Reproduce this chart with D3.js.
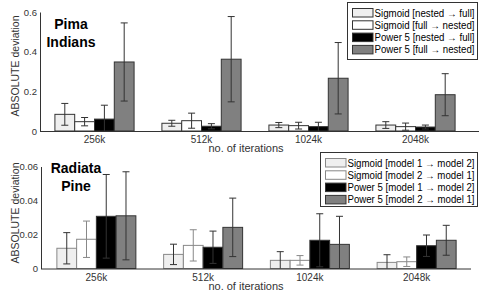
<!DOCTYPE html>
<html>
<head>
<meta charset="utf-8">
<script src="https://cdn.jsdelivr.net/npm/d3@7"></script>
<style>
  body { margin: 0; background: #fff; }
  svg { display: block; font-family: "Liberation Sans", Arial, Helvetica, sans-serif; }
</style>
</head>
<body>
<div id="canvas"></div>
<script>
// categories
const iterations = ["256k", "512k", "1024k", "2048k"];

// Pima Indians
const pimaLabels = ["Sigmoid [nested \u2192 full]", "Sigmoid [full \u2192 nested]",
                    "Power 5 [nested \u2192 full]", "Power 5 [full \u2192 nested]"];
const pimaSigNF   = [0.084, 0.039, 0.030, 0.030];
const pimaSigFN   = [0.047, 0.052, 0.027, 0.022];
const pimaPowNF   = [0.060, 0.024, 0.022, 0.020];
const pimaPowFN   = [0.348, 0.362, 0.266, 0.183];
const pimaSigNFErr = [0.055, 0.015, 0.013, 0.017];
const pimaSigFNErr = [0.021, 0.038, 0.017, 0.018];
const pimaPowNFErr = [0.070, 0.013, 0.022, 0.010];
const pimaPowFNErr = [0.197, 0.215, 0.180, 0.106];
const pimaTicks = [0, 0.2, 0.4, 0.6];

// Radiata Pine
const pineLabels = ["Sigmoid [model 1 \u2192 model 2]", "Sigmoid [model 2 \u2192 model 1]",
                    "Power 5 [model 1 \u2192 model 2]", "Power 5 [model 2 \u2192 model 1]"];
const pineSig12 = [0.0119, 0.0083, 0.0048, 0.0036];
const pineSig21 = [0.0172, 0.0136, 0.0048, 0.0040];
const pinePow12 = [0.0307, 0.0125, 0.0166, 0.0134];
const pinePow21 = [0.0310, 0.0242, 0.0142, 0.0166];
const pineSig12Err = [0.0092, 0.0060, 0.0051, 0.0045];
const pineSig21Err = [0.0107, 0.0092, 0.0028, 0.0028];
const pinePow12Err = [0.0246, 0.0095, 0.0156, 0.0063];
const pinePow21Err = [0.0259, 0.0172, 0.0165, 0.0088];
const pineTicks = [0, 0.02, 0.04, 0.06];

const fills = ["#efefef", "#ffffff", "#000000", "#808080"];

const svg = d3.select("#canvas").append("svg")
    .attr("width", 482)
    .attr("height", 301);

function drawPanel(opt) {
    const g = svg.append("g");
    const y = d3.scaleLinear().domain([0, opt.ymax]).range([opt.y0, opt.y1]);
    const x = d3.scaleBand().domain(iterations).range(opt.xr).padding(0);
    const xi = d3.scaleBand().domain(d3.range(4)).range([x.bandwidth() * 0.13, x.bandwidth() * 0.87]);

    const rows = [];
    opt.series.forEach((s, j) => {
        s.forEach((v, i) => rows.push({ cat: iterations[i], j: j, v: v, e: opt.errs[j][i] }));
    });

    // bars
    g.selectAll("rect.bar").data(rows).enter().append("rect")
        .attr("class", "bar")
        .attr("x", d => x(d.cat) + xi(d.j))
        .attr("y", d => y(d.v))
        .attr("width", xi.bandwidth())
        .attr("height", d => y(0) - y(d.v))
        .style("fill", d => fills[d.j])
        .style("stroke", d => opt.edges[d.j])
        .style("stroke-width", 1);

    // error bars
    const cap = 3.5;
    const eb = g.selectAll("g.err").data(rows).enter().append("g")
        .attr("class", "err")
        .style("stroke", d => opt.errColors[d.j])
        .style("stroke-width", 1);
    const cx = d => x(d.cat) + xi(d.j) + xi.bandwidth() / 2;
    const lo = d => y(Math.max(0, d.v - d.e));
    eb.append("line").attr("x1", cx).attr("x2", cx)
        .attr("y1", d => y(d.v + d.e)).attr("y2", lo);
    eb.append("line").attr("x1", d => cx(d) - cap).attr("x2", d => cx(d) + cap)
        .attr("y1", d => y(d.v + d.e)).attr("y2", d => y(d.v + d.e));
    eb.filter(d => d.v - d.e > 0).append("line")
        .attr("x1", d => cx(d) - cap).attr("x2", d => cx(d) + cap)
        .attr("y1", lo).attr("y2", lo);

    // y axis
    const ya = g.append("g")
        .attr("transform", `translate(${opt.xr[0] - opt.yaxOff},0)`)
        .call(d3.axisLeft(y).tickValues(opt.ticks).tickSize(0).tickPadding(3)
            .tickFormat(d => d === 0 ? "0" : String(d)));
    ya.select(".domain").attr("stroke", "#333");
    ya.selectAll("text").style("font-size", "9.5px").style("fill", "#333")
        .style("font-family", "Liberation Sans, Arial, sans-serif");

    // x axis line
    g.append("line")
        .attr("x1", opt.xr[0] - opt.yaxOff).attr("x2", opt.xend)
        .attr("y1", y(0) + 0.5).attr("y2", y(0) + 0.5)
        .style("stroke", "#333");

    // x tick labels
    g.selectAll("text.xt").data(iterations).enter().append("text")
        .attr("class", "xt")
        .attr("x", d => x(d) + x.bandwidth() / 2)
        .attr("y", y(0) + 12)
        .attr("text-anchor", "middle")
        .style("font-size", "10px").style("fill", "#333")
        .text(d => d);

    g.append("text")
        .attr("x", 246).attr("y", y(0) + 21)
        .attr("text-anchor", "middle")
        .style("font-size", "11px").style("fill", "#333")
        .text("no. of iterations");

    g.append("text")
        .attr("transform", `translate(19,${opt.ylabY}) rotate(-90)`)
        .attr("text-anchor", "middle")
        .style("font-size", "10.5px").style("fill", "#333")
        .text("ABSOLUTE deviation");

    // title
    opt.title.forEach((t, k) => {
        g.append("text")
            .attr("x", opt.titleX).attr("y", opt.titleY + k * 18)
            .attr("text-anchor", "middle")
            .style("font-size", "14px").style("font-weight", "bold").style("fill", "#000")
            .text(t);
    });

    // legend
    const L = opt.legend;
    g.append("rect")
        .attr("x", L.x).attr("y", L.y).attr("width", L.w).attr("height", L.h)
        .style("fill", "#fff").style("stroke", "#333");
    opt.labels.forEach((lab, j) => {
        const ry = L.y + 6 + j * 12.3;
        g.append("rect")
            .attr("x", L.x + 5).attr("y", ry).attr("width", 20.5).attr("height", 8.5)
            .style("fill", fills[j]).style("stroke", opt.edges[j]);
        g.append("text")
            .attr("x", L.x + 27).attr("y", ry + 8)
            .attr("textLength", L.w - 30)
            .attr("lengthAdjust", "spacingAndGlyphs")
            .style("font-size", "10px").style("fill", "#000")
            .text(lab);
    });
}

drawPanel({
    series: [pimaSigNF, pimaSigFN, pimaPowNF, pimaPowFN],
    errs: [pimaSigNFErr, pimaSigFNErr, pimaPowNFErr, pimaPowFNErr],
    labels: pimaLabels,
    ticks: pimaTicks,
    ymax: 0.6, y0: 131, y1: 12,
    xr: [41, 469], yaxOff: 1, xend: 479,
    edges: ["#333", "#333", "#333", "#333"],
    errColors: ["#333", "#333", "#333", "#333"],
    ylabY: 66,
    title: ["Pima", "Indians"], titleX: 71, titleY: 29,
    legend: { x: 347.5, y: 2.5, w: 130, h: 57 }
});

drawPanel({
    series: [pineSig12, pineSig21, pinePow12, pinePow21],
    errs: [pineSig12Err, pineSig21Err, pinePow12Err, pinePow21Err],
    labels: pineLabels,
    ticks: pineTicks,
    ymax: 0.06, y0: 268.5, y1: 166.5,
    xr: [43, 470], yaxOff: 2, xend: 471,
    edges: ["#888", "#888", "#333", "#333"],
    errColors: ["#333", "#888", "#333", "#333"],
    ylabY: 213,
    title: ["Radiata", "Pine"], titleX: 76, titleY: 173,
    legend: { x: 320.5, y: 152.5, w: 157, h: 54 }
});
</script>
</body>
</html>
